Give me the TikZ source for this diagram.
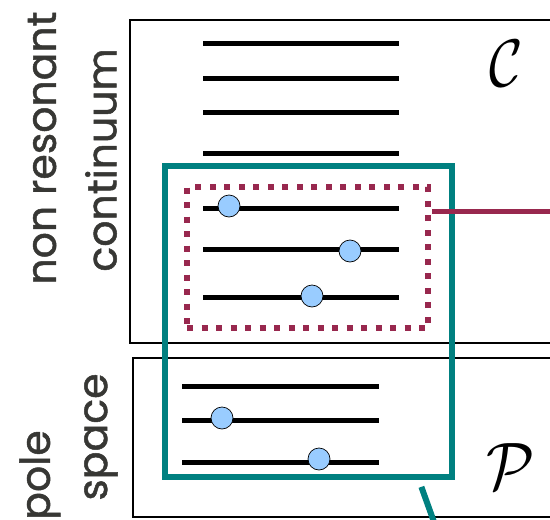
\documentclass[tikz,border=0pt]{standalone}
\usepackage{fontspec}
\setmainfont{Poppins}
\newfontfamily\labelfont[FakeBold=1.2]{Poppins}
\usepackage{amsmath}

\definecolor{resmaroon}{RGB}{152,40,78}
\definecolor{poleteal}{RGB}{0,128,128}
\definecolor{dotblue}{RGB}{153,204,255}
\definecolor{labelgray}{RGB}{55,55,52}

\tikzset{
    level/.style={line width=5pt},
    state/.style={circle,draw=black,line width=0.7pt,fill=dotblue,minimum size=22pt,inner sep=0pt},
    spacebox/.style={draw=black,line width=1.5pt},
    sidelabel/.style={rotate=90,text=labelgray,inner sep=0pt,font=\labelfont\fontsize{41}{44}\selectfont},
    spacename/.style={inner sep=0pt,font=\Huge}
}

\begin{document}
\begin{tikzpicture}[x=1pt,y=1pt,yscale=-1,xscale=1]
        \clip (0,0) rectangle (550,520);
        \draw[spacebox] (130,20) rectangle (600,343);
        \draw[spacebox] (133,358) rectangle (600,517);

        \foreach \yy in {43,78,112,153,208,249,297}
            \draw[level] (203,\yy) -- (399,\yy);
        \foreach \yy in {386,420,462}
            \draw[level] (182,\yy) -- (379,\yy);

        \node[state] (c1) at (229,206) {};
        \node[state] (c2) at (350,251) {};
        \node[state] (c3) at (312,296) {};
        \node[state] (p1) at (222,418) {};
        \node[state] (p2) at (319,459) {};

        \node[draw=resmaroon,line width=6pt,dash pattern=on 6pt off 8.5pt,minimum width=241pt,minimum height=141pt] (resbox) at (307.5,257.5) {};
        \node[draw=poleteal,line width=6.5pt,minimum width=287pt,minimum height=311pt] (polebox) at (308.5,321.5) {};

        \coordinate (resout) at (552,211);
        \coordinate (poleout) at (434,522);
        \coordinate (poleleg) at (419,0);
        \draw[resmaroon,line width=5pt,shorten <=1pt] (resbox.east |- resout) -- (resout);
        \draw[poleteal,line width=6pt,shorten <=7pt] (polebox.south -| poleleg) -- (poleout);

        \node[sidelabel] (nonres) at (42,148) {non resonant};
        \node[sidelabel] (cont) at (101,160) {continuum};
        \node[sidelabel] (pole) at (40,475) {pole};
        \node[sidelabel] (space) at (101,437) {space};

        \node[spacename,xscale=2.3,yscale=2.7] (cname) at (506,64) {$\mathcal{C}$};
        \node[spacename,xscale=2.5,yscale=2.7] (pname) at (511,467) {$\mathcal{P}$};
\end{tikzpicture}
\end{document}
